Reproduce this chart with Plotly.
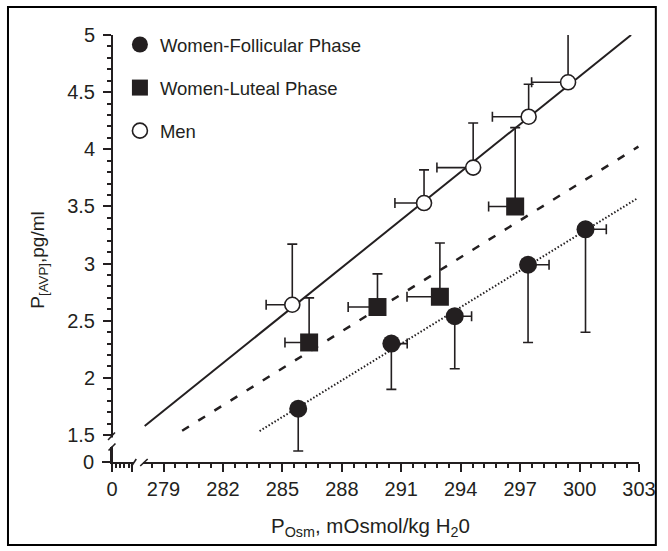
import plotly.graph_objects as go

# ---------------- data ----------------
fol_x = [285.8, 290.5, 293.7, 297.4, 300.3]
fol_y = [1.73, 2.30, 2.54, 2.99, 3.30]
fol_yerr_minus = [0.37, 0.40, 0.46, 0.68, 0.90]
fol_xerr_plus = [0.0, 0.80, 0.85, 1.06, 1.05]

lut_x = [286.35, 289.8, 292.95, 296.75]
lut_y = [2.31, 2.62, 2.71, 3.50]
lut_yerr_plus = [0.39, 0.29, 0.47, 0.69]
lut_xerr_minus = [1.22, 1.48, 1.66, 1.34]

men_x = [285.5, 292.15, 294.63, 297.43, 299.42]
men_y = [2.64, 3.53, 3.84, 4.285, 4.586]
men_yerr_plus = [0.53, 0.29, 0.39, 0.284, 0.42]
men_xerr_minus = [1.32, 1.47, 1.83, 1.83, 1.84]

# regression lines (end points)
men_fit_x = [278.05, 302.6]
men_fit_y = [1.579, 5.0]
lut_fit_x = [279.94, 302.97]
lut_fit_y = [1.538, 4.023]
fol_fit_x = [283.85, 302.92]
fol_fit_y = [1.535, 3.571]

x_ticks = [279, 282, 285, 288, 291, 294, 297, 300, 303]
y_ticks = [1.5, 2, 2.5, 3, 3.5, 4, 4.5, 5]
y_tick_text = ["1.5", "2", "2.5", "3", "3.5", "4", "4.5", "5"]
y_minor = [round(1.5 + 0.1 * i, 1) for i in range(36) if i % 5 != 0]

series_names = ["Women-Follicular Phase", "Women-Luteal Phase", "Men"]

# ---------------- styling ----------------
INK = "#231f20"
FONT = "Liberation Sans, Arial, Helvetica, sans-serif"
W, H = 668, 551
ML, MR, MT, MB = 112, 24, 35, 89
PW, PH = W - ML - MR, H - MT - MB


def px(xp):
    return (xp - ML) / PW


def py(yp):
    return (H - MB - yp) / PH


fig = go.Figure()

# fit lines
fig.add_trace(go.Scatter(x=men_fit_x, y=men_fit_y, mode="lines",
                         line=dict(color=INK, width=2), showlegend=False, hoverinfo="skip"))
fig.add_trace(go.Scatter(x=lut_fit_x, y=lut_fit_y, mode="lines",
                         line=dict(color=INK, width=2.5, dash="8px,11px"), showlegend=False, hoverinfo="skip"))
fig.add_trace(go.Scatter(x=fol_fit_x, y=fol_fit_y, mode="lines",
                         line=dict(color=INK, width=2, dash="1.5px,2px"), showlegend=False, hoverinfo="skip"))

eb = dict(color=INK, thickness=1.6, width=5)

fig.add_trace(go.Scatter(
    x=fol_x, y=fol_y, mode="markers", name=series_names[0], legendgroup="a",
    marker=dict(symbol="circle", size=18, color=INK, line=dict(width=0)),
    error_y=dict(type="data", symmetric=False, array=[0] * len(fol_y), arrayminus=fol_yerr_minus, **eb),
    error_x=dict(type="data", symmetric=False, array=fol_xerr_plus, arrayminus=[0] * len(fol_x), **eb),
))
fig.add_trace(go.Scatter(
    x=lut_x, y=lut_y, mode="markers", name=series_names[1], legendgroup="b",
    marker=dict(symbol="square", size=18, color=INK, line=dict(width=0)),
    error_y=dict(type="data", symmetric=False, array=lut_yerr_plus, arrayminus=[0] * len(lut_y), **eb),
    error_x=dict(type="data", symmetric=False, array=[0] * len(lut_x), arrayminus=lut_xerr_minus, **eb),
))
fig.add_trace(go.Scatter(
    x=men_x, y=men_y, mode="markers", name=series_names[2], legendgroup="c",
    marker=dict(symbol="circle", size=15, color="white", line=dict(width=1.6, color=INK)),
    error_y=dict(type="data", symmetric=False, array=men_yerr_plus, arrayminus=[0] * len(men_y), **eb),
    error_x=dict(type="data", symmetric=False, array=[0] * len(men_x), arrayminus=men_xerr_minus, **eb),
))
# empty trace to create the small origin subplot
fig.add_trace(go.Scatter(x=[None], y=[None], xaxis="x2", yaxis="y2", showlegend=False, hoverinfo="skip"))

tickfont = dict(family=FONT, size=20, color=INK)
axis_common = dict(showline=True, linecolor=INK, linewidth=2, ticks="outside", tickcolor=INK,
                   tickwidth=1.5, ticklen=8, showgrid=False, zeroline=False, tickfont=tickfont)

y_bottom = 5 - PH / 114.3
fig.update_layout(
    width=W, height=H,
    margin=dict(l=ML, r=MR, t=MT, b=MB),
    paper_bgcolor="white", plot_bgcolor="white",
    font=dict(family=FONT, color=INK),
    xaxis=dict(domain=[px(143), 1], range=[303 - (644 - 143) / 20, 303], anchor="y",
               tickmode="array", tickvals=x_ticks,
               minor=dict(tick0=279, dtick=0.6, ticks="outside", ticklen=4, tickwidth=1.5, tickcolor=INK),
               **axis_common),
    yaxis=dict(domain=[0, 1], range=[y_bottom, 5], anchor="free", position=0,
               tickmode="array", tickvals=y_ticks, ticktext=y_tick_text, ticklabelstandoff=4,
               minor=dict(tickmode="array", tickvals=y_minor, ticks="outside", ticklen=4, tickwidth=1.5, tickcolor=INK),
               **axis_common),
    xaxis2=dict(domain=[0, px(134)], range=[0, 6.6], anchor="y2",
                tickmode="array", tickvals=[0, 6], ticktext=["0", ""],
                minor=dict(tickmode="array", tickvals=[1.25, 2.5, 3.75, 5], ticks="outside", ticklen=4,
                           tickwidth=1.5, tickcolor=INK),
                **axis_common),
    yaxis2=dict(domain=[0, py(447)], range=[0, 1], anchor="x2",
                tickmode="array", tickvals=[0], ticktext=["0"], ticklabelstandoff=4,
                **axis_common),
    legend=dict(x=px(120), y=py(26), xanchor="left", yanchor="top",
                font=dict(family=FONT, size=18.5, color=INK),
                traceorder="grouped", tracegroupgap=16, bgcolor="rgba(0,0,0,0)"),
    showlegend=True,
)

shapes = []
# white-out gap of the y axis break
shapes.append(dict(type="rect", xref="paper", yref="paper", x0=px(108), x1=px(116), y0=py(446.5), y1=py(437.5),
                   fillcolor="white", line=dict(width=0), layer="above"))
# break slashes
for (x0, y0, x1, y1) in [(108, 440, 115, 432.5), (108.5, 450.5, 115.5, 443.5),
                         (131.5, 466.5, 136.5, 459), (140.5, 466, 148, 459)]:
    shapes.append(dict(type="line", xref="paper", yref="paper", x0=px(x0), y0=py(y0), x1=px(x1), y1=py(y1),
                       line=dict(color=INK, width=1.6), layer="above"))
# outer frame
shapes.append(dict(type="rect", xref="paper", yref="paper", x0=px(7), x1=px(661), y0=py(545), y1=py(7),
                   line=dict(color="black", width=2), fillcolor="rgba(0,0,0,0)", layer="above"))
fig.update_layout(shapes=shapes)

fig.add_annotation(xref="paper", yref="paper", x=px(373), y=py(527), showarrow=False,
                   text="P<sub>Osm</sub>, mOsmol/kg H<sub>2</sub>0",
                   font=dict(family=FONT, size=20.5, color=INK), xanchor="center", yanchor="middle")
fig.add_annotation(xref="paper", yref="paper", x=px(38), y=py(260), showarrow=False, textangle=-90,
                   text="P<sub>[AVP]</sub>,pg/ml",
                   font=dict(family=FONT, size=19, color=INK), xanchor="center", yanchor="middle")

# the page's default body margin would shift the 668x551 figure; remove it
fig.write_html("out.html", config={"displayModeBar": False},
               post_script="document.body.style.margin='0';document.body.style.padding='0';")
